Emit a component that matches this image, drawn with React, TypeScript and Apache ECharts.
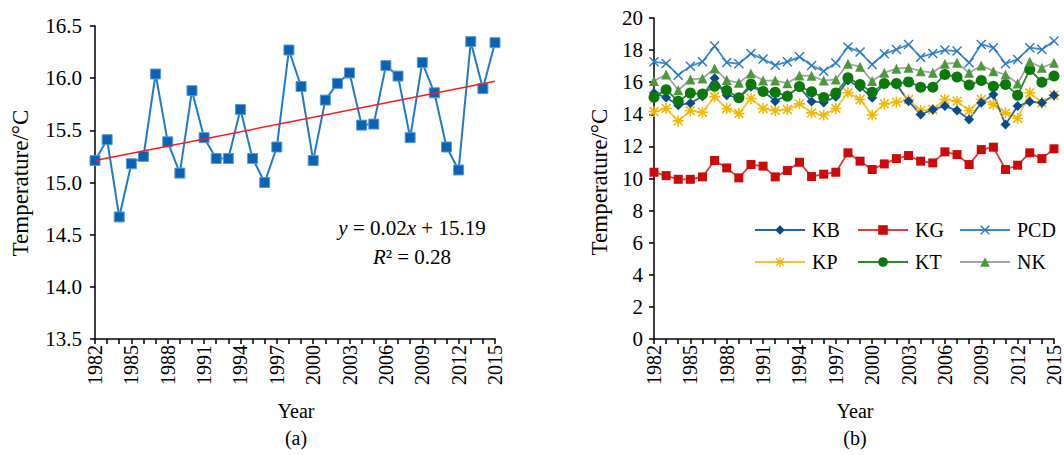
import React, { useEffect, useRef } from "react";
import * as echarts from "echarts";

const years = ["1982","1983","1984","1985","1986","1987","1988","1989","1990","1991","1992","1993","1994","1995","1996","1997","1998","1999","2000","2001","2002","2003","2004","2005","2006","2007","2008","2009","2010","2011","2012","2013","2014","2015"];

const meanTemp = [15.21,15.41,14.67,15.18,15.25,16.04,15.39,15.09,15.88,15.43,15.23,15.23,15.70,15.23,15.00,15.34,16.27,15.92,15.21,15.79,15.95,16.05,15.55,15.56,16.12,16.02,15.43,16.15,15.86,15.34,15.12,16.35,15.90,16.34];
const trendEnds = [15.21, 15.97];

const KB = [15.32,15.05,14.57,14.69,15.13,16.25,15.19,15.03,15.71,15.44,14.82,15.19,15.69,14.80,14.74,15.10,16.11,15.69,15.03,15.92,15.86,14.82,13.99,14.30,14.51,14.24,13.68,14.72,15.23,13.36,14.51,14.78,14.72,15.19];
const KG = [10.39,10.18,9.95,9.95,10.10,11.12,10.66,10.04,10.87,10.77,10.10,10.50,11.01,10.12,10.27,10.39,11.60,11.08,10.56,10.91,11.24,11.43,11.08,10.97,11.66,11.49,10.87,11.80,11.95,10.56,10.83,11.60,11.24,11.85];
const PCD = [17.27,17.17,16.44,17.00,17.27,18.25,17.23,17.15,17.79,17.44,17.06,17.27,17.58,17.04,16.69,17.20,18.19,17.88,17.10,17.77,18.04,18.35,17.56,17.79,18.00,17.94,17.21,18.35,18.15,17.15,17.42,18.15,18.04,18.56];
const KP = [14.17,14.36,13.59,14.22,14.13,15.09,14.36,14.05,14.99,14.36,14.24,14.30,14.65,14.09,13.95,14.36,15.34,14.92,13.95,14.65,14.76,14.92,14.24,14.30,14.92,14.82,14.24,14.92,14.61,14.09,13.74,15.34,14.72,15.19];
const KT = [15.07,15.53,14.82,15.32,15.26,15.75,15.48,15.03,15.88,15.42,15.38,15.13,15.73,15.40,15.05,15.32,16.27,15.86,15.38,15.92,15.92,16.02,15.69,15.69,16.48,16.32,15.82,16.11,15.75,15.86,15.19,16.79,16.00,16.38];
const NK = [16.07,16.48,15.50,16.17,16.23,16.86,16.13,15.96,16.54,16.10,16.10,15.94,16.42,16.40,16.10,16.17,17.15,16.96,16.07,16.59,16.84,16.90,16.69,16.59,17.15,17.21,16.59,17.04,16.69,16.48,15.92,17.27,16.90,17.21];

const FONT = '"Liberation Serif", "Times New Roman", serif';
const xPath = "path://M0,1L1,0L5,4L9,0L10,1L6,5L10,9L9,10L5,6L1,10L0,9L4,5Z";
const starPath = "path://M4.3,0H5.7V10H4.3Z M0,4.3H10V5.7H0Z M0.5,1.5L1.5,0.5L9.5,8.5L8.5,9.5Z M8.5,0.5L9.5,1.5L1.5,9.5L0.5,8.5Z";

export default function App() {
  const ref = useRef<HTMLDivElement>(null);
  useEffect(() => {
    document.body.style.margin = "0";
    const chart = echarts.init(ref.current!, null, { renderer: "svg" });
    const axisLine = { show: true, lineStyle: { color: "#000", width: 1.5 } };
    const axisTick = { show: true, inside: false, length: 5, lineStyle: { color: "#000", width: 1.5 } };
    const txt = { color: "#000", fontFamily: FONT, fontSize: 20 };
    const xAxisBase = (gi: number) => ({
      type: "category",
      gridIndex: gi,
      data: years,
      boundaryGap: false,
      axisLine,
      axisTick: { ...axisTick, interval: 0 },
      axisLabel: { ...txt, rotate: 90, interval: 2, margin: 6 },
      splitLine: { show: false },
    });
    const lineSeries = (name: string, data: number[], lineColor: string, sym: string, symColor: string, size: number) => ({
      name,
      type: "line",
      xAxisIndex: 1,
      yAxisIndex: 1,
      data,
      symbol: sym,
      symbolSize: size,
      showAllSymbol: true,
      lineStyle: { color: lineColor, width: 1.8 },
      itemStyle: { color: symColor, borderWidth: 0 },
      z: 3,
    });
    const legendCol = (left: number, names: string[]) => ({
      left,
      top: 215,
      orient: "vertical",
      data: names,
      itemWidth: 50,
      itemHeight: 12,
      itemGap: 12,
      textStyle: { ...txt, lineHeight: 20, padding: [0, 0, 0, 2] },
      selectedMode: false,
    });
    chart.setOption({
      animation: false,
      backgroundColor: "#fff",
      grid: [
        { left: 95, right: 1064 - 495, top: 26, bottom: 455 - 339, containLabel: false },
        { left: 654, right: 1064 - 1055, top: 18, bottom: 455 - 339, containLabel: false },
      ],
      xAxis: [xAxisBase(0), xAxisBase(1)],
      yAxis: [
        {
          type: "value", gridIndex: 0, min: 13.5, max: 16.5, interval: 0.5,
          axisLine, axisTick, splitLine: { show: false },
          axisLabel: { ...txt, fontSize: 21, margin: 13, formatter: (v: number) => v.toFixed(1) },
        },
        {
          type: "value", gridIndex: 1, min: 0, max: 20, interval: 2,
          axisLine, axisTick, splitLine: { show: false },
          axisLabel: { ...txt, fontSize: 21, margin: 11 },
        },
      ],
      legend: [
        legendCol(749, ["KB", "KP"]),
        legendCol(852, ["KG", "KT"]),
        legendCol(954, ["PCD", "NK"]),
      ],
      series: [
        {
          name: "mean",
          type: "line",
          xAxisIndex: 0,
          yAxisIndex: 0,
          data: meanTemp,
          symbol: "rect",
          symbolSize: 10,
          showAllSymbol: true,
          lineStyle: { color: "#1f7bc6", width: 2 },
          itemStyle: { color: "#0a62b4", borderColor: "#5a9ad6", borderWidth: 1 },
          z: 3,
          markLine: {
            silent: true,
            symbol: "none",
            label: { show: false },
            lineStyle: { color: "#ff1a1a", width: 1.5, type: "solid" },
            data: [[{ coord: [years[0], trendEnds[0]] }, { coord: [years[years.length - 1], trendEnds[1]] }]],
            z: 4,
          },
        },
        lineSeries("KG", KG, "#e23a3a", "rect", "#cc0a0a", 9),
        lineSeries("KP", KP, "#f5c63c", starPath, "#f2b705", 11),
        lineSeries("KB", KB, "#2566a8", "diamond", "#0b4a8a", 10),
        lineSeries("KT", KT, "#2e8a2e", "circle", "#0a780a", 11),
        lineSeries("NK", NK, "#a3a3a3", "triangle", "#4a9a3c", 10),
        lineSeries("PCD", PCD, "#3a8ad4", xPath, "#2a78c4", 10),
      ],
      graphic: [
        { type: "text", x: 20, y: 183, rotation: Math.PI / 2, style: { text: "Temperature/°C", ...txt, fontSize: 23, fill: "#000", align: "center", verticalAlign: "middle" } },
        { type: "text", x: 599, y: 182, rotation: Math.PI / 2, style: { text: "Temperature/°C", ...txt, fontSize: 23, fill: "#000", align: "center", verticalAlign: "middle" } },
        { type: "text", x: 296, y: 411, style: { text: "Year", ...txt, fill: "#000", align: "center", verticalAlign: "middle" } },
        { type: "text", x: 855, y: 411, style: { text: "Year", ...txt, fill: "#000", align: "center", verticalAlign: "middle" } },
        { type: "text", x: 296, y: 438, style: { text: "(a)", ...txt, fill: "#000", align: "center", verticalAlign: "middle" } },
        { type: "text", x: 855, y: 438, style: { text: "(b)", ...txt, fill: "#000", align: "center", verticalAlign: "middle" } },
        {
          type: "text", x: 412, y: 228,
          style: {
            text: "{i|y} = 0.02{i|x} + 15.19", ...txt, fontSize: 21, fill: "#000", align: "center", verticalAlign: "middle",
            rich: { i: { fontFamily: FONT, fontSize: 21, fontStyle: "italic", fill: "#000" } },
          },
        },
        {
          type: "text", x: 412, y: 257,
          style: {
            text: "{i|R}² = 0.28", ...txt, fontSize: 21, fill: "#000", align: "center", verticalAlign: "middle",
            rich: { i: { fontFamily: FONT, fontSize: 21, fontStyle: "italic", fill: "#000" } },
          },
        },
      ],
    });
    return () => chart.dispose();
  }, []);
  return <div ref={ref} style={{ width: 1064, height: 455 }} />;
}
